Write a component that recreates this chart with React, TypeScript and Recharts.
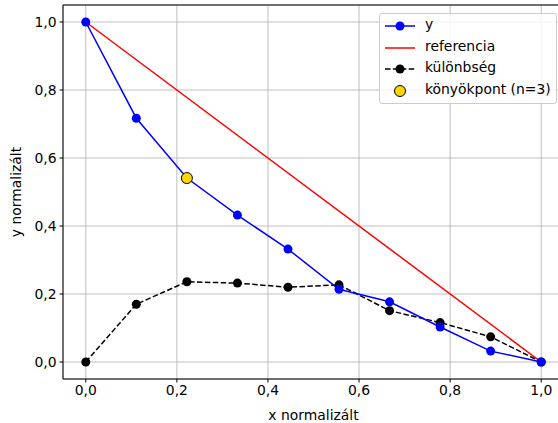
import { ComposedChart, Line, XAxis, YAxis, CartesianGrid, ReferenceArea } from 'recharts'

const xNorm = [0, 0.111, 0.222, 0.333, 0.444, 0.556, 0.667, 0.778, 0.889, 1]
const yNorm = [1, 0.717, 0.541, 0.432, 0.332, 0.214, 0.177, 0.103, 0.032, 0]
const diffValues = [0, 0.17, 0.236, 0.232, 0.22, 0.227, 0.151, 0.116, 0.074, 0]
const refX = [0, 1]
const refY = [1, 0]
const elbowX = [0.222]
const elbowY = [0.541]
const TICKS = [0, 0.2, 0.4, 0.6, 0.8, 1]

const FONT = '"DejaVu Sans", sans-serif'

const rows = xNorm.map((x, i) => ({ x, y: yNorm[i], diff: diffValues[i] }))
const refRows = refX.map((x, i) => ({ x, ref: refY[i] }))
const elbowRows = elbowX.map((x, i) => ({ x, e: elbowY[i] }))

const fmt = (v: number) => v.toFixed(1).replace('.', ',')

const legendItems = [
  { label: 'y', kind: 'lineDot', color: '#0000ff' },
  { label: 'referencia', kind: 'line', color: '#ff0000' },
  { label: 'különbség', kind: 'dashDot', color: '#000000' },
  { label: 'könyökpont (n=3)', kind: 'dot', color: '#ffd700' },
]

function LegendBox() {
  return (
    <div
      style={{
        position: 'absolute',
        left: 379,
        top: 13,
        width: 176,
        border: '1px solid #cccccc',
        borderRadius: 3,
        background: 'rgba(255,255,255,0.8)',
        paddingTop: 1,
        paddingBottom: 1,
        fontFamily: FONT,
        fontSize: 13.9,
        color: '#000',
      }}
    >
      {legendItems.map((it) => (
        <div key={it.label} style={{ position: 'relative', height: 21.7, lineHeight: '21.7px' }}>
          <svg width={32} height={22} style={{ position: 'absolute', left: 4, top: 0 }}>
            {it.kind !== 'dot' && (
              <line
                x1={1}
                x2={31}
                y1={11}
                y2={11}
                stroke={it.color}
                strokeWidth={1.5}
                strokeDasharray={it.kind === 'dashDot' ? '5.5 2.4' : undefined}
              />
            )}
            {(it.kind === 'lineDot' || it.kind === 'dashDot') && <circle cx={16} cy={11} r={4.5} fill={it.color} />}
            {it.kind === 'dot' && <circle cx={16} cy={11} r={5.5} fill={it.color} stroke="#000" strokeWidth={1} />}
          </svg>
          <span style={{ position: 'absolute', left: 45, top: -1 }}>{it.label}</span>
        </div>
      ))}
    </div>
  )
}

export default function App() {
  return (
    <div style={{ position: 'absolute', left: 0, top: 0, width: 558, height: 423, overflow: 'hidden', background: '#fff' }}>
      <ComposedChart width={570} height={423} data={rows} margin={{ top: 5, right: 6, left: 0, bottom: 0 }}>
        <CartesianGrid stroke="#b0b0b0" strokeWidth={0.8} />
        <XAxis
          type="number"
          dataKey="x"
          domain={[-0.05, 1.05]}
          ticks={TICKS}
          tickFormatter={fmt}
          height={44}
          tickSize={3.5}
          tickMargin={3}
          stroke="#000"
          axisLine={false}
          tick={{ fill: '#000', fontSize: 13.9, fontFamily: FONT }}
          allowDataOverflow
          label={{ value: 'x normalizált', position: 'insideBottom', offset: 3, fill: '#000', fontSize: 13.9, fontFamily: FONT }}
        />
        <YAxis
          type="number"
          domain={[-0.05, 1.05]}
          ticks={TICKS}
          tickFormatter={fmt}
          width={63}
          tickSize={3.5}
          tickMargin={3}
          stroke="#000"
          axisLine={false}
          tick={{ fill: '#000', fontSize: 13.9, fontFamily: FONT }}
          allowDataOverflow
          label={(props: any) => {
            const vb = props.viewBox
            const cx = 16
            const cy = vb.y + vb.height / 2
            return (
              <text
                x={cx}
                y={cy}
                transform={`rotate(-90 ${cx} ${cy})`}
                textAnchor="middle"
                dominantBaseline="central"
                fill="#000"
                fontSize={13.9}
                fontFamily={FONT}
              >
                y normalizált
              </text>
            )
          }}
        />
        <ReferenceArea x1={-0.05} x2={1.05} y1={-0.05} y2={1.05} fill="none" stroke="#000" strokeWidth={1} />
        <Line
          data={refRows}
          dataKey="ref"
          stroke="#ff0000"
          strokeWidth={1.5}
          dot={false}
          activeDot={false}
          isAnimationActive={false}
        />
        <Line
          dataKey="diff"
          stroke="#000000"
          strokeWidth={1.5}
          strokeDasharray="5.5 2.4"
          dot={{ r: 4.5, fill: '#000', stroke: '#000', strokeWidth: 0, strokeDasharray: '' }}
          activeDot={false}
          isAnimationActive={false}
        />
        <Line
          dataKey="y"
          stroke="#0000ff"
          strokeWidth={1.5}
          dot={{ r: 4.5, fill: '#0000ff', stroke: '#0000ff', strokeWidth: 0 }}
          activeDot={false}
          isAnimationActive={false}
        />
        <Line
          data={elbowRows}
          dataKey="e"
          stroke="none"
          dot={{ r: 5.5, fill: '#ffd700', stroke: '#000', strokeWidth: 1 }}
          activeDot={false}
          isAnimationActive={false}
        />
      </ComposedChart>
      <LegendBox />
    </div>
  )
}
